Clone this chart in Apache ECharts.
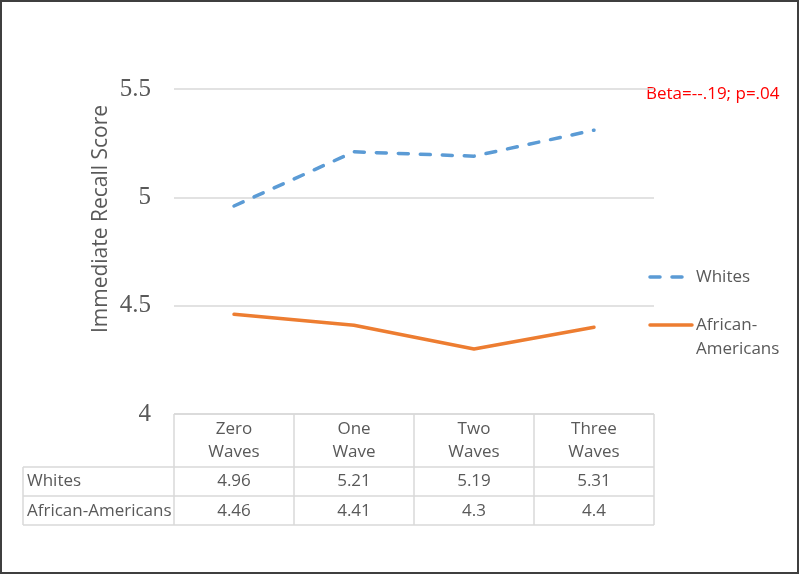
<!DOCTYPE html>
<html>
<head>
<meta charset="utf-8">
<script src="https://cdn.jsdelivr.net/npm/echarts@6/dist/echarts.min.js"></script>
<style>
  html, body { margin: 0; padding: 0; background: #fff; }
  #chart { width: 800px; height: 575px; }
</style>
</head>
<body>
<div id="chart"></div>
<script>
// ---- data ----
const categories = ['Zero Waves', 'One Wave', 'Two Waves', 'Three Waves'];
const headerLabels = ['Zero\nWaves', 'One\nWave', 'Two\nWaves', 'Three\nWaves'];
const whites = [4.96, 5.21, 5.19, 5.31];
const africanAmericans = [4.46, 4.41, 4.3, 4.4];
const seriesNames = ['Whites', 'African-Americans'];
const yTicks = { min: 4, max: 5.5, interval: 0.5 };
const annotation = 'Beta=--.19; p=.04';
const yTitle = 'Immediate Recall Score';

// ---- layout ----
const GL = 174, GR = 654, GT = 89, GB = 414;
const gray = '#595959', lineGray = '#D9D9D9';
const font = '"Open Sans", "Noto Sans", sans-serif';
const tableFont = 17;

const chart = echarts.init(document.getElementById('chart'), null, { renderer: 'canvas' });

function hiddenAxisParts() {
  return { axisLine: { show: false }, axisTick: { show: false }, splitLine: { show: false } };
}

const option = {
  animation: false,
  backgroundColor: '#fff',
  grid: { left: GL, right: 800 - GR, top: GT, bottom: 575 - GB },
  xAxis: [
    Object.assign({
      type: 'category', data: categories, boundaryGap: true, position: 'bottom',
      axisLabel: {
        margin: 3, interval: 0,
        formatter: (v, i) => headerLabels[i],
        color: gray, fontFamily: font, fontSize: tableFont, lineHeight: 23.5
      }
    }, hiddenAxisParts()),
    Object.assign({
      type: 'category', data: categories, boundaryGap: true, position: 'bottom', offset: 57.5,
      axisLabel: {
        margin: 0, interval: 0,
        formatter: (v, i) => String(whites[i]),
        color: gray, fontFamily: font, fontSize: tableFont, lineHeight: 20
      }
    }, hiddenAxisParts()),
    Object.assign({
      type: 'category', data: categories, boundaryGap: true, position: 'bottom', offset: 87,
      axisLabel: {
        margin: 0, interval: 0,
        formatter: (v, i) => String(africanAmericans[i]),
        color: gray, fontFamily: font, fontSize: tableFont, lineHeight: 20
      }
    }, hiddenAxisParts())
  ],
  yAxis: {
    type: 'value', min: yTicks.min, max: yTicks.max, interval: yTicks.interval,
    axisLine: { show: false }, axisTick: { show: false },
    splitLine: { lineStyle: { color: lineGray, width: 1.5 } },
    axisLabel: {
      margin: 23, color: gray, fontFamily: '"Liberation Serif", "DejaVu Serif", serif', fontSize: 25,
      formatter: v => String(Math.round(v * 10) / 10)
    }
  },
  series: [
    {
      name: seriesNames[0], type: 'line', data: whites, symbol: 'none',
      lineStyle: { color: '#5B9BD5', width: 3.5, type: [10, 12], cap: 'round' },
      itemStyle: { color: '#5B9BD5' }
    },
    {
      name: seriesNames[1], type: 'line', data: africanAmericans, symbol: 'none',
      lineStyle: { color: '#ED7D31', width: 3.5, cap: 'round' },
      itemStyle: { color: '#ED7D31' }
    }
  ],
  graphic: []
};
chart.setOption(option);

// table grid lines and row labels, positioned from the category axis
const g = [];
const colEdges = [GL];
for (let i = 0; i < categories.length; i++) {
  const c = chart.convertToPixel({ xAxisIndex: 0 }, categories[i]);
  const half = (GR - GL) / categories.length / 2;
  colEdges.push(c + half);
}
const rowTop = GB, headerBottom = 467, row2 = 496, row3 = 525, tableLeft = 23;
const ls = { stroke: lineGray, lineWidth: 1.5 };
function line(x1, y1, x2, y2) {
  g.push({ type: 'line', silent: true, shape: { x1, y1, x2, y2 }, style: ls, z: 1 });
}
line(GL, rowTop, GR, rowTop);
[headerBottom, row2, row3].forEach(y => line(tableLeft, y, GR, y));
colEdges.forEach(x => line(x, rowTop, x, row3));
line(tableLeft, headerBottom, tableLeft, row3);

g.push({ type: 'text', x: 27, y: 481.5, style: { text: seriesNames[0], fill: gray, font: tableFont + 'px ' + font, verticalAlign: 'middle', align: 'left' } });
g.push({ type: 'text', x: 27, y: 511, style: { text: seriesNames[1], fill: gray, font: tableFont + 'px ' + font, verticalAlign: 'middle', align: 'left' } });

// y axis title
g.push({ type: 'text', x: 101, y: 219, rotation: Math.PI / 2, style: { text: yTitle, fill: gray, font: '21px ' + font, align: 'center', verticalAlign: 'middle' } });

// annotation
g.push({ type: 'text', x: 646, y: 94, style: { text: annotation, fill: '#FF0000', font: '17px ' + font, align: 'left', verticalAlign: 'middle' } });

// legend
g.push({ type: 'line', shape: { x1: 650, y1: 277, x2: 688, y2: 277 }, style: { stroke: '#5B9BD5', lineWidth: 3.5, lineDash: [10, 12], lineCap: 'round' } });
g.push({ type: 'text', x: 696, y: 277, style: { text: seriesNames[0], fill: gray, font: '17px ' + font, verticalAlign: 'middle' } });
g.push({ type: 'line', shape: { x1: 650, y1: 325, x2: 692, y2: 325 }, style: { stroke: '#ED7D31', lineWidth: 3.5, lineCap: 'round' } });
g.push({ type: 'text', x: 696, y: 313, style: { text: 'African-\nAmericans', fill: gray, font: '17px ' + font, verticalAlign: 'top', lineHeight: 24 } });

// outer frame
g.push({ type: 'rect', shape: { x: 1, y: 1, width: 797, height: 572 }, style: { fill: 'none', stroke: '#3F3F3F', lineWidth: 2 }, z: 10 });

chart.setOption({ graphic: g });
</script>
</body>
</html>
